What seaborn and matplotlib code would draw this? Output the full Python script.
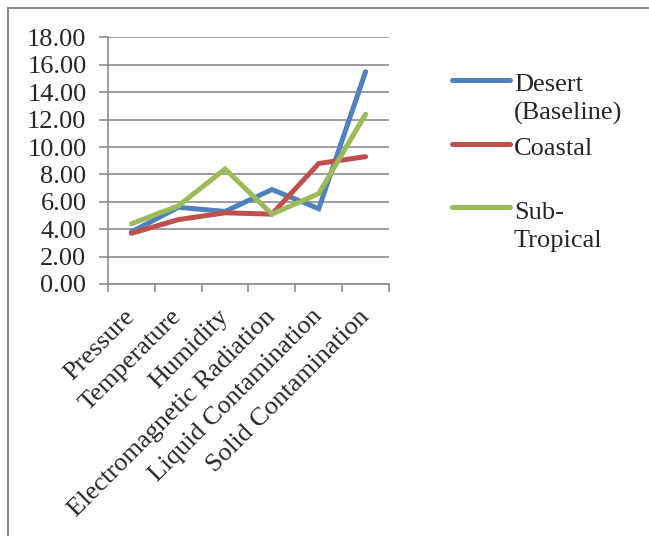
import matplotlib
matplotlib.use("Agg")
import matplotlib.pyplot as plt
import numpy as np
import seaborn as sns
import pandas as pd
from matplotlib.patches import Rectangle
from matplotlib.lines import Line2D
from matplotlib.legend_handler import HandlerLine2D

# Exposure categories and relative severity per environment
categories = ["Pressure", "Temperature", "Humidity", "Electromagnetic Radiation",
              "Liquid Contamination", "Solid Contamination"]
desert = [3.8, 5.6, 5.3, 6.9, 5.5, 15.5]
coastal = [3.7, 4.7, 5.2, 5.1, 8.8, 9.3]
subtropical = [4.4, 5.7, 8.4, 5.1, 6.6, 12.4]
series_names = ["Desert\n(Baseline)", "Coastal\n", "Sub-\nTropical"]
colors = ["#4F81BD", "#C0504D", "#9BBB59"]
y_ticks = [0, 2, 4, 6, 8, 10, 12, 14, 16, 18]

FS = 19

rows = []
for name, vals in zip(series_names, [desert, coastal, subtropical]):
    for i, (c, v) in enumerate(zip(categories, vals)):
        rows.append({"idx": i, "category": c, "value": v, "series": name})
df = pd.DataFrame(rows)

sns.set_style("white")
plt.rcParams["font.family"] = ["Liberation Serif", "DejaVu Serif"]

fig = plt.figure(figsize=(6.49, 5.36), dpi=100)
ax = fig.add_axes([108 / 649, 1 - 284 / 536, 281 / 649, (284 - 37.5) / 536])

sns.lineplot(data=df, x="idx", y="value", hue="series", palette=colors,
             hue_order=series_names, linewidth=3.6, ax=ax, legend=False,
             solid_capstyle="round", solid_joinstyle="miter")

grid_c = "#8C8C8C"
ax.set_ylim(0, 18)
ax.set_xlim(-0.5, len(categories) - 0.5)
ax.set_yticks(y_ticks)
ax.set_yticklabels([f"{t:.2f}" for t in y_ticks])
ax.yaxis.grid(True, color=grid_c, linewidth=1.2)
ax.xaxis.grid(False)
ax.set_axisbelow(True)

# category boundaries carry the tick marks
ax.set_xticks([i - 0.5 for i in range(len(categories) + 1)])
ax.set_xticklabels([])
ax.set_xticks(range(len(categories)), minor=True)
ax.set_xticklabels(categories, minor=True, rotation=45, ha="right",
                   va="center", rotation_mode="anchor", fontsize=FS)
ax.tick_params(axis="x", which="minor", length=0, pad=21)
ax.tick_params(axis="x", which="major", length=6, width=1.2, color=grid_c,
               direction="out")
ax.tick_params(axis="y", length=6.5, width=1.2, color=grid_c, labelsize=FS,
               pad=9, direction="out")
ax.tick_params(axis="both", which="both", bottom=True, left=True)
ax.xaxis.set_tick_params(which="minor", bottom=False)

for s in ["top", "right"]:
    ax.spines[s].set_visible(False)
for s in ["left", "bottom"]:
    ax.spines[s].set_color(grid_c)
    ax.spines[s].set_linewidth(1.2)
ax.set_xlabel("")
ax.set_ylabel("")


class FirstLineHandler(HandlerLine2D):
    """Legend line raised to sit beside the first line of a two-line label."""

    def __init__(self, shift, **kw):
        super().__init__(**kw)
        self.shift = shift

    def create_artists(self, legend, orig_handle, xdescent, ydescent, width,
                       height, fontsize, trans):
        artists = super().create_artists(legend, orig_handle, xdescent,
                                         ydescent, width, height, fontsize,
                                         trans)
        for a in artists:
            if isinstance(a, Line2D):
                a.set_ydata(np.asarray(a.get_ydata(), float) + self.shift)
        return artists


handles = [Line2D([], [], color=c, linewidth=3.6, solid_capstyle="round")
           for c in colors]
shift = 0.72 * FS
leg = fig.legend(handles, series_names, loc="upper left",
                 bbox_to_anchor=(452 / 649, 1 - 74 / 536), frameon=False,
                 fontsize=FS, handlelength=2.2, handletextpad=0.15,
                 labelspacing=0.5, borderaxespad=0, borderpad=0,
                 handler_map={Line2D: FirstLineHandler(shift)})
for t in leg.get_texts():
    t.set_linespacing(1.35)

# outer chart border (top and left edges visible)
fig.add_artist(Rectangle((8 / 649, -0.1), 1.0, 1 - 8 / 536 + 0.1,
                         transform=fig.transFigure, fill=False,
                         edgecolor="#8C8C8C", linewidth=1.5))

fig.savefig("out.png", dpi=100)
